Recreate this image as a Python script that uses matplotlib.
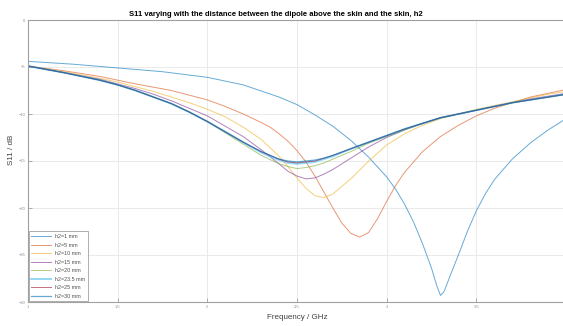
import numpy as np
import matplotlib
matplotlib.use("Agg")
import matplotlib.pyplot as plt

plt.rcParams['font.family'] = ['Liberation Sans', 'DejaVu Sans']

# frequency grid (GHz) shared by the smooth curves
freq = [1.0, 1.2, 1.4, 1.5, 1.6, 1.7, 1.8, 1.9, 2.0, 2.1, 2.2, 2.3, 2.4, 2.45,
        2.5, 2.55, 2.6, 2.65, 2.7, 2.8, 2.9, 3.0, 3.1, 3.2, 3.3, 3.4, 3.5, 3.6,
        3.7, 3.8, 3.9, 4.0]

# h2 = 1 mm has its own grid (sharp dip near 3.3 GHz)
freq_h1 = [1.0, 1.25, 1.5, 1.75, 2.0, 2.2, 2.4, 2.5, 2.6, 2.7, 2.8, 2.9, 3.0,
           3.05, 3.1, 3.15, 3.2, 3.25, 3.28, 3.3, 3.32, 3.35, 3.4, 3.45, 3.5,
           3.55, 3.6, 3.7, 3.8, 3.9, 4.0]
s11_h1 = [-4.4, -4.7, -5.1, -5.5, -6.1, -6.9, -8.2, -9.0, -10.1, -11.3, -12.8,
          -14.6, -16.7, -18.0, -19.6, -21.5, -23.8, -26.4, -28.3, -29.3, -28.9,
          -27.4, -25.0, -22.5, -20.3, -18.5, -17.0, -14.8, -13.1, -11.7, -10.5]

# h2 = 5 mm has extra points around its minimum
freq_h5 = [1.0, 1.2, 1.4, 1.5, 1.6, 1.8, 2.0, 2.1, 2.2, 2.3, 2.35, 2.4, 2.45,
           2.5, 2.55, 2.6, 2.65, 2.7, 2.75, 2.8, 2.85, 2.9, 2.95, 3.0, 3.05, 3.1,
           3.2, 3.3, 3.4, 3.5, 3.6, 3.7, 3.8, 3.9, 4.0]
s11_h5 = [-4.9, -5.4, -6.0, -6.4, -6.8, -7.5, -8.5, -9.2, -10.0, -10.9, -11.4,
          -12.1, -12.9, -13.9, -15.1, -16.6, -18.3, -20.0, -21.6, -22.7, -23.1,
          -22.6, -21.1, -19.3, -17.6, -16.2, -14.0, -12.4, -11.2, -10.2, -9.4,
          -8.8, -8.2, -7.8, -7.4]

s11_h10 = [-4.9, -5.5, -6.2, -6.6, -7.1, -7.6, -8.2, -8.8, -9.5, -10.3, -11.4,
           -12.7, -14.5, -15.6, -16.8, -17.9, -18.7, -18.9, -18.5, -16.9, -15.0,
           -13.3, -12.1, -11.2, -10.5, -10.0, -9.5, -9.1, -8.7, -8.3, -7.9, -7.6]
s11_h15 = [-4.9, -5.6, -6.3, -6.8, -7.3, -7.9, -8.6, -9.4, -10.2, -11.3, -12.4,
           -13.8, -15.3, -16.1, -16.6, -16.9, -16.8, -16.4, -15.9, -14.7, -13.5,
           -12.5, -11.7, -11.0, -10.4, -10.0, -9.6, -9.2, -8.8, -8.4, -8.1, -7.8]
s11_h20 = [-4.9, -5.6, -6.4, -6.9, -7.5, -8.2, -8.9, -9.8, -10.8, -12.0, -13.2,
           -14.4, -15.3, -15.6, -15.8, -15.7, -15.5, -15.2, -14.8, -14.0, -13.1,
           -12.4, -11.7, -11.0, -10.4, -10.0, -9.6, -9.2, -8.8, -8.5, -8.2, -7.9]
s11_h23 = [-4.9, -5.6, -6.4, -6.9, -7.5, -8.2, -8.9, -9.8, -10.8, -11.9, -13.0,
           -14.1, -14.9, -15.2, -15.3, -15.2, -15.1, -14.8, -14.5, -13.7, -13.0,
           -12.3, -11.6, -11.0, -10.4, -10.0, -9.6, -9.2, -8.8, -8.5, -8.2, -7.9]
s11_h25 = [-4.9, -5.6, -6.4, -6.9, -7.5, -8.2, -8.9, -9.8, -10.8, -11.9, -13.0,
           -14.0, -14.8, -15.1, -15.2, -15.1, -15.0, -14.7, -14.4, -13.7, -13.0,
           -12.3, -11.6, -11.0, -10.4, -10.0, -9.6, -9.2, -8.8, -8.5, -8.2, -7.9]
s11_h30 = [-4.9, -5.6, -6.4, -6.9, -7.5, -8.2, -8.9, -9.8, -10.8, -11.9, -13.0,
           -14.0, -14.8, -15.0, -15.1, -15.0, -14.9, -14.7, -14.4, -13.7, -13.0,
           -12.3, -11.6, -11.0, -10.4, -10.0, -9.6, -9.2, -8.8, -8.5, -8.2, -7.9]

labels = ['h2=1 mm', 'h2=5 mm', 'h2=10 mm', 'h2=15 mm', 'h2=20 mm',
          'h2=23.5 mm', 'h2=25 mm', 'h2=30 mm']
series = [(freq_h1, s11_h1), (freq_h5, s11_h5), (freq, s11_h10), (freq, s11_h15),
          (freq, s11_h20), (freq, s11_h23), (freq, s11_h25), (freq, s11_h30)]
colors = ['#0072BD', '#D95319', '#EDB120', '#7E2F8E', '#77AC30', '#4DBEEE',
          '#A2142F', '#0072BD']
widths = [0.7, 0.7, 0.7, 0.7, 0.7, 1.4, 0.7, 0.9]

fig = plt.figure(figsize=(5.63, 3.26), dpi=100)
ax = fig.add_axes([28 / 563, 1 - 302 / 326, 538 / 563, 282 / 326])

for (x, y), lab, c, lw in zip(series, labels, colors, widths):
    ax.plot(x, y, color=c, lw=lw, alpha=0.6, label=lab)

ax.set_xlim(1, 4)
ax.set_ylim(-30, 0)
ax.set_xticks([1, 1.5, 2, 2.5, 3, 3.5, 4])
ax.set_xticklabels(['1', '1.5', '2', '2.5', '3', '3.5', ''])
ax.set_yticks([0, -5, -10, -15, -20, -25, -30])
ax.grid(True, color='#e6e6e6', lw=0.6)
ax.tick_params(direction='in', length=3, width=0.5, labelsize=3,
               colors='#909090', pad=2)
for sp in ax.spines.values():
    sp.set_color('#a0a0a0')
    sp.set_linewidth(0.8)

ax.set_title('S11 varying with the distance between the dipole above the skin and the skin, h2',
             fontsize=5.5, fontweight='bold', x=0.461, pad=3)
ax.set_xlabel('Frequency / GHz', fontsize=5.8, color='#404040', labelpad=4)
ax.set_ylabel('S11 / dB', fontsize=5.8, color='#404040')
ax.yaxis.set_label_coords(-0.024, 0.54)

leg = ax.legend(loc='lower left', fontsize=3.9, handlelength=3.6,
                labelspacing=0.65, borderaxespad=0.1, fancybox=False,
                framealpha=1, edgecolor='#a0a0a0', borderpad=0.5)
leg.get_frame().set_linewidth(0.6)
for t in leg.get_texts():
    t.set_color('#505050')

fig.savefig('out.png', dpi=100)
